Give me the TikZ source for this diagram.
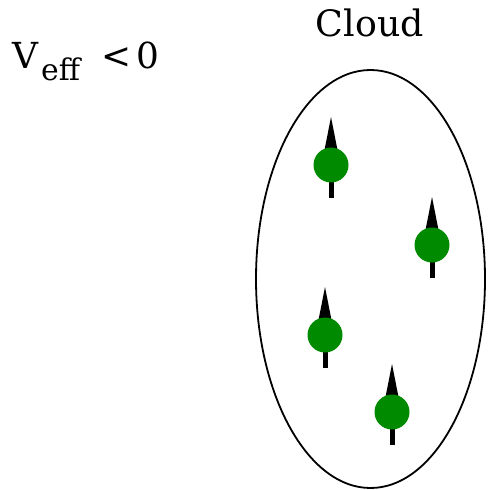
\documentclass[tikz,border=0pt]{standalone}
\usepackage{fontspec}
\setmainfont{DejaVu Serif}
\usetikzlibrary{shapes.geometric}
\definecolor{spingreen}{RGB}{0,138,0}
\tikzset{
  spinball/.style={circle, fill=spingreen, draw=none, minimum size=35bp, inner sep=0pt},
  label text/.style={inner sep=0pt, font=\rmfamily\fontsize{36.5}{38}\selectfont},
  veff text/.style={inner sep=0pt, font=\rmfamily\fontsize{36}{38}\selectfont},
  cloudline/.style={draw=black, line width=1.8bp},
}
\begin{document}
\begin{tikzpicture}[x=1bp,y=-1bp]
\useasboundingbox (0,0) rectangle (488,490);
\node[label text, anchor=base] (cloudlbl) at (370,37) {Cloud};
\node[veff text, anchor=base west] (veff) at (12,69) {V\kern3bp\raisebox{-12bp}{\fontsize{30}{32}\selectfont eff}\kern21bp{<}\kern5bp 0};
\node[cloudline, ellipse, minimum width=229bp, minimum height=418bp, inner sep=0pt] (cloud) at (370.5,279) {};
\foreach \n/\px/\py in {1/331/165, 2/432/245, 3/325/335, 4/392/412}{
  \coordinate (tip\n) at (\px,\py-48);
  \coordinate (tail\n) at (\px,\py+33);
  \fill[black] (tip\n) -- (\px-6.5,\py-15) -- (\px+6.5,\py-15) -- cycle;
  \draw[black, line width=5bp] (\px,\py) -- (tail\n);
  \node[spinball] (s\n) at (\px,\py) {};
}
\end{tikzpicture}
\end{document}
